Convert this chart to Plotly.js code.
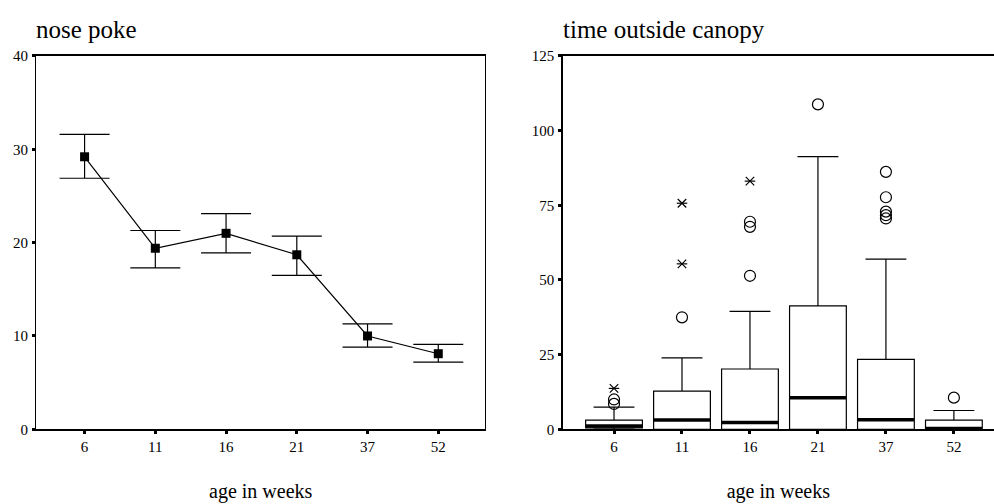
<!DOCTYPE html>
<html>
<head>
<meta charset="utf-8">
<script src="https://cdn.plot.ly/plotly-3.0.1.min.js"></script>
<style>html,body{margin:0;padding:0;background:#fff;}#chart{width:994px;height:504px;}</style>
</head>
<body>
<div id="chart"></div>
<script>
// ---- data ----
const ages = ["6", "11", "16", "21", "37", "52"];

// nose poke: mean with error-bar bounds
const pokeMean  = [29.2, 19.4, 21.0, 18.7, 10.0, 8.1];
const pokeUpper = [31.6, 21.3, 23.1, 20.7, 11.3, 9.1];
const pokeLower = [26.9, 17.3, 18.9, 16.5, 8.8, 7.2];

// time outside canopy: box statistics
const boxQ1     = [0.5, 0, 0, 0, 0, 0];
const boxMedian = [1.1, 3.1, 2.3, 10.6, 3.2, 0.3];
const boxQ3     = [3.1, 12.8, 20.2, 41.3, 23.4, 3.1];
const boxLow    = [0, 0, 0, 0, 0, 0];
const boxHigh   = [7.4, 23.9, 39.5, 91.3, 57.0, 6.3];

// outliers (circles) and extremes (stars)
const circleX = ["6", "6", "11", "16", "16", "16", "21", "37", "37", "37", "37", "37", "52"];
const circleY = [8.5, 10.0, 37.5, 51.4, 67.8, 69.5, 108.8, 86.2, 77.7, 72.9, 71.7, 70.6, 10.6];
const starX = ["6", "11", "11", "16"];
const starY = [13.7, 55.4, 75.7, 83.1];

const FONT = "'Liberation Serif', 'Times New Roman', serif";

const errPlus  = pokeUpper.map((u, i) => +(u - pokeMean[i]).toFixed(2));
const errMinus = pokeLower.map((l, i) => +(pokeMean[i] - l).toFixed(2));

const traces = [
  {
    type: "scatter", mode: "lines+markers", x: ages, y: pokeMean,
    xaxis: "x", yaxis: "y",
    line: {color: "#000", width: 1.2},
    marker: {symbol: "square", size: 9, color: "#000"},
    error_y: {type: "data", array: errPlus, arrayminus: errMinus, symmetric: false,
              color: "#000", thickness: 1.2, width: 25},
    showlegend: false, cliponaxis: false
  },
  {
    type: "box", x: ages, q1: boxQ1, median: boxMedian, q3: boxQ3,
    lowerfence: boxLow, upperfence: boxHigh,
    xaxis: "x2", yaxis: "y2",
    width: 0.835, whiskerwidth: 0.72,
    fillcolor: "#fff", line: {color: "#000", width: 1.2},
    boxpoints: false, showlegend: false
  },
  {
    type: "scatter", mode: "markers", x: ages, y: boxMedian,
    xaxis: "x2", yaxis: "y2",
    marker: {symbol: "line-ew-open", size: 40, color: "#000", line: {color: "#000", width: 3.5}},
    showlegend: false, cliponaxis: true
  },
  {
    type: "scatter", mode: "markers", x: circleX, y: circleY,
    xaxis: "x2", yaxis: "y2",
    marker: {symbol: "circle-open", size: 11, color: "#000", line: {color: "#000", width: 1.2}},
    showlegend: false, cliponaxis: false
  },
  {
    type: "scatter", mode: "markers", x: starX, y: starY,
    xaxis: "x2", yaxis: "y2",
    marker: {symbol: "x-thin-open", size: 8.5, color: "#000", line: {color: "#000", width: 1.2}},
    showlegend: false, cliponaxis: false
  },
  {
    type: "scatter", mode: "markers", x: starX, y: starY,
    xaxis: "x2", yaxis: "y2",
    marker: {symbol: "line-ew-open", size: 7.5, color: "#000", line: {color: "#000", width: 1.2}},
    showlegend: false, cliponaxis: false
  }
];

const axisCommon = {
  showgrid: false, zeroline: false, showline: true, linecolor: "#000", linewidth: 1.5,
  ticks: "outside", ticklen: 3, tickwidth: 3, tickcolor: "#000",
  tickfont: {family: FONT, size: 15, color: "#000"}, fixedrange: true
};

const xTitle = {text: "age in weeks", font: {family: FONT, size: 20, color: "#000"}, standoff: 30};

const layout = {
  width: 994, height: 504,
  margin: {l: 0, r: 0, t: 0, b: 0},
  paper_bgcolor: "#fff", plot_bgcolor: "#fff",
  font: {family: FONT, color: "#000"},
  showlegend: false,
  xaxis: Object.assign({}, axisCommon, {
    domain: [0.0367, 0.4879], type: "category", range: [-0.68, 5.66], mirror: true,
    anchor: "y", title: xTitle
  }),
  yaxis: Object.assign({}, axisCommon, {
    domain: [0.1482, 0.8889], range: [0, 40], tickvals: [0, 10, 20, 30, 40], mirror: true,
    anchor: "x", ticklabelstandoff: 1
  }),
  xaxis2: Object.assign({}, axisCommon, {
    domain: [0.5661, 1], type: "category", range: [-0.755, 5.59], mirror: true,
    anchor: "y2", title: xTitle
  }),
  yaxis2: Object.assign({}, axisCommon, {
    domain: [0.1482, 0.8889], range: [0, 125], tickvals: [0, 25, 50, 75, 100, 125], mirror: false,
    anchor: "x2", ticklabelstandoff: 1
  }),
  annotations: [
    {text: "nose poke", xref: "paper", yref: "paper", x: 34 / 994, y: 1 - 29 / 504,
     xanchor: "left", yanchor: "middle", showarrow: false,
     font: {family: FONT, size: 25, color: "#000"}},
    {text: "time outside canopy", xref: "paper", yref: "paper", x: 561 / 994, y: 1 - 29 / 504,
     xanchor: "left", yanchor: "middle", showarrow: false,
     font: {family: FONT, size: 25, color: "#000"}}
  ]
};

Plotly.newPlot("chart", traces, layout, {staticPlot: true, displayModeBar: false});
</script>
</body>
</html>
